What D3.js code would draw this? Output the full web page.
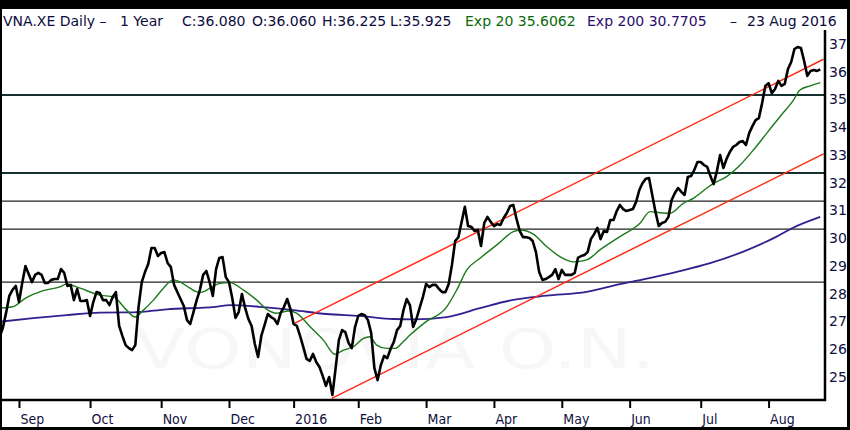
<!DOCTYPE html>
<html><head><meta charset="utf-8">
<script src="https://cdn.jsdelivr.net/npm/d3@7/dist/d3.min.js"></script>
<style>html,body{margin:0;padding:0;background:#fff;}svg{display:block;}</style>
</head><body>
<svg id="c" width="850" height="430"></svg>
<script>
// ---- data (trading-day index based) ----
const closes = [26.44,26.77,27.31,27.92,28.14,28.28,27.70,28.39,29.00,28.71,
28.42,28.68,28.75,28.68,28.39,28.39,28.50,28.53,28.53,28.89,
28.75,28.28,28.32,27.77,28.17,27.74,27.74,27.77,27.20,27.70,
28.06,28.03,27.77,27.77,27.59,27.88,28.06,26.84,26.48,26.15,
26.04,25.97,26.15,27.52,28.42,28.78,29.07,29.65,29.65,29.36,
29.47,29.50,29.11,28.96,28.32,28.06,27.81,27.56,27.05,26.91,
27.34,27.77,28.14,28.68,28.82,28.42,27.92,28.89,29.29,29.32,
28.60,28.42,27.85,27.13,27.34,27.99,27.49,27.09,26.84,26.19,
25.72,26.48,26.87,27.27,27.16,27.09,26.91,27.31,27.52,27.81,
27.45,26.91,26.84,26.48,26.08,25.65,25.58,25.83,25.54,25.36,
25.04,24.68,25.00,24.35,25.32,26.33,26.69,26.62,26.23,26.04,
26.80,27.20,27.27,27.23,27.05,26.59,25.32,24.89,25.43,25.76,
25.68,26.01,26.26,26.69,26.84,27.41,27.81,27.59,26.80,27.09,
27.49,27.88,28.35,28.24,28.32,28.32,28.17,28.06,28.06,28.35,
29.04,29.90,30.04,30.59,31.13,30.44,30.41,30.26,30.30,29.72,
30.55,30.77,30.59,30.44,30.51,30.48,30.73,30.91,31.16,31.20,
30.69,30.26,30.04,30.04,30.01,29.90,29.50,28.78,28.50,28.53,
28.60,28.68,28.89,28.53,28.86,28.68,28.68,28.68,28.75,29.29,
29.36,29.40,29.50,29.97,30.15,30.37,29.97,30.26,30.23,30.66,
30.66,30.98,31.20,31.05,30.98,31.02,31.05,31.31,31.74,31.99,
32.14,32.17,31.56,30.95,30.44,30.55,30.59,30.77,31.38,31.63,
31.81,31.67,31.56,32.21,32.24,32.46,32.75,32.75,32.64,32.57,
32.24,31.95,32.42,33.00,32.53,32.86,33.11,33.29,33.36,33.47,
33.50,33.36,33.79,34.04,34.26,34.33,34.87,35.49,35.59,35.23,
35.38,35.67,35.49,35.56,36.10,36.35,36.82,36.89,36.86,36.39,
35.85,36.03,36.06,36.03,36.08];

const ema20Idx = [0,4,8,13.5,18.7,20.8,24.9,31.1,35.2,39.3,41.9,44.5,47.6,50.7,53.8,55.8,58.9,62,65.1,68.2,71.3,75.4,79.6,82.7,85.8,89.4,91.9,96.1,100.2,103.8,106.4,109.5,112.6,114.6,116.7,119.8,122.4,124.9,127,131.7,138.4,141.5,144.6,148.7,153.9,159,161.1,165.2,169.3,173.4,177.6,181.7,185.8,192,198.2,201.3,204.4,207.5,211.6,214.7,218.8,220.9,225,229.2,233.3,237.4,241.5,245.7,247.7,250.8,254];
const ema20 = [27.48,27.53,27.84,28.11,28.25,28.35,28.20,27.95,27.89,27.41,27.16,27.41,27.77,28.20,28.50,28.43,28.20,28.04,28.19,28.38,28.40,28.14,27.77,27.44,27.30,27.38,27.30,26.81,26.33,25.82,25.97,26.09,26.39,26.45,26.15,26.03,26.03,26.27,26.51,26.97,27.53,28.14,28.86,29.28,29.76,30.24,30.30,30.15,29.70,29.34,29.15,29.22,29.58,30.06,30.54,30.96,30.92,30.90,31.26,31.44,31.80,31.97,32.22,32.64,33.18,33.78,34.38,34.98,35.34,35.49,35.61];

const ema200Idx = [0,10.4,20.8,31,41.4,51.7,66.7,71.3,80.6,90.9,101.2,111.5,121.9,128,138.4,148.7,159,169.3,181.7,192,199.2,209.6,219.9,230.2,240.5,245.6,254];
const ema200 = [26.99,27.12,27.23,27.32,27.33,27.44,27.53,27.59,27.53,27.41,27.27,27.20,27.09,27.08,27.16,27.48,27.78,27.93,28.07,28.35,28.52,28.79,29.10,29.52,30.06,30.38,30.77];

const levels = [35.16, 32.35, 31.34, 30.33, 28.42];
const levelHeavy = [true, true, false, false, false];

const trendIdx = [[91.4, 255], [102.8, 255]];
const trendVal = [[26.94, 36.45], [24.23, 33.04]];

const monthLabels = ["Sep","Oct","Nov","Dec","2016","Feb","Mar","Apr","May","Jun","Jul","Aug"];
const monthIdx = [6,28,50,71,91,111,132,153,174,195,217,238];
const yTicks = [25,26,27,28,29,30,31,32,33,34,35,36,37];

// ---- drawing ----
const svg = d3.select("#c");
const W = 850, H = 430;
const plot = {l: 2, r: 825, t: 30, b: 400};
const x = d3.scaleLinear().domain([0, 254]).range([-0.4, -0.4 + 254 * 3.231]);
const y = d3.scaleLinear().domain([25, 37]).range([377, 44]);

svg.append("rect").attr("width", W).attr("height", H).attr("fill", "#fff");

svg.append("defs").append("clipPath").attr("id", "pc")
  .append("rect").attr("x", plot.l).attr("y", plot.t)
  .attr("width", plot.r - plot.l).attr("height", plot.b - plot.t);

const g = svg.append("g").attr("clip-path", "url(#pc)");

// watermark
g.append("text").attr("x", 135).attr("y", 368)
  .attr("textLength", 520).attr("lengthAdjust", "spacingAndGlyphs")
  .attr("font-family", "DejaVu Sans").attr("font-size", 56)
  .attr("fill", "#f7f7f7").text("VONOVIA O.N.");

// horizontal levels
levels.forEach((v, i) => {
  g.append("line").attr("x1", plot.l).attr("x2", plot.r)
    .attr("y1", y(v)).attr("y2", y(v))
    .attr("stroke", levelHeavy[i] ? "#143030" : "#222")
    .attr("stroke-width", levelHeavy[i] ? 2 : 1.3);
});

// EMA200
g.append("path").datum(ema200Idx.map((d, i) => [d, ema200[i]]))
  .attr("fill", "none").attr("stroke", "#33208f").attr("stroke-width", 1.8)
  .attr("d", d3.line().x(d => x(d[0])).y(d => y(d[1])).curve(d3.curveMonotoneX));

// trend lines
trendIdx.forEach((t, i) => {
  g.append("line").attr("x1", x(t[0])).attr("x2", x(t[1]))
    .attr("y1", y(trendVal[i][0])).attr("y2", y(trendVal[i][1]))
    .attr("stroke", "#ff2a14").attr("stroke-width", 1.5);
});

// EMA20
g.append("path").datum(ema20Idx.map((d, i) => [d, ema20[i]]))
  .attr("fill", "none").attr("stroke", "#1b7a1b").attr("stroke-width", 1.4)
  .attr("d", d3.line().x(d => x(d[0])).y(d => y(d[1])).curve(d3.curveMonotoneX));

// close
g.append("path").datum(closes)
  .attr("fill", "none").attr("stroke", "#000").attr("stroke-width", 2.6)
  .attr("stroke-linejoin", "round")
  .attr("d", d3.line().x((d, i) => x(i)).y(d => y(d)));

// plot borders (right & bottom)
svg.append("line").attr("x1", plot.r).attr("x2", plot.r).attr("y1", plot.t).attr("y2", plot.b + 1)
  .attr("stroke", "#000").attr("stroke-width", 2.5);
svg.append("line").attr("x1", 0).attr("x2", plot.r + 1).attr("y1", plot.b).attr("y2", plot.b)
  .attr("stroke", "#000").attr("stroke-width", 2.5);

// x axis
const xa = svg.append("g").attr("transform", `translate(0,${plot.b + 1})`)
  .call(d3.axisBottom(x).tickValues(monthIdx).tickSize(7).tickPadding(4)
    .tickFormat((d, i) => monthLabels[i]));
xa.select(".domain").remove();
xa.selectAll(".tick line").attr("stroke", "#000").attr("stroke-width", 2);
xa.selectAll(".tick text").attr("text-anchor", "start").attr("dx", 1).attr("dy", "0.85em")
  .attr("font-family", "DejaVu Sans Condensed").attr("font-size", 14).attr("fill", "#101040");

// y axis (right)
const ya = svg.append("g").attr("transform", `translate(${plot.r},0)`)
  .call(d3.axisRight(y).tickValues(yTicks).tickSize(0).tickPadding(4).tickFormat(d3.format("d")));
ya.select(".domain").remove();
ya.selectAll(".tick text").attr("font-family", "DejaVu Sans").attr("font-size", 14)
  .attr("fill", "#101040");

// header
const hdr = [
  {t: "VNA.XE Daily \u2013", x: 3, c: "#0c0c3c"},
  {t: "1 Year", x: 120, c: "#0c0c3c"},
  {t: "C:36.080", x: 182, c: "#0c0c3c"},
  {t: "O:36.060", x: 252, c: "#0c0c3c"},
  {t: "H:36.225", x: 322, c: "#0c0c3c"},
  {t: "L:35.925", x: 390, c: "#0c0c3c"},
  {t: "Exp 20 35.6062", x: 465, c: "#0a6a0a"},
  {t: "Exp 200 30.7705", x: 587, c: "#2c0c6c"},
  {t: "\u2013", x: 730, c: "#0c0c3c"},
  {t: "23 Aug 2016", x: 747, c: "#0c0c3c"}
];
hdr.forEach(h => svg.append("text").attr("x", h.x).attr("y", 26)
  .attr("font-family", "DejaVu Sans").attr("font-size", 14).attr("fill", h.c).text(h.t));

// outer frame
svg.append("rect").attr("x", 0).attr("y", 0).attr("width", W).attr("height", 9).attr("fill", "#000");
svg.append("rect").attr("x", 0).attr("y", 0).attr("width", 2).attr("height", H).attr("fill", "#000");
svg.append("rect").attr("x", W - 3).attr("y", 0).attr("width", 3).attr("height", H).attr("fill", "#000");
svg.append("rect").attr("x", 0).attr("y", H - 3).attr("width", W).attr("height", 3).attr("fill", "#000");
</script>
</body></html>
